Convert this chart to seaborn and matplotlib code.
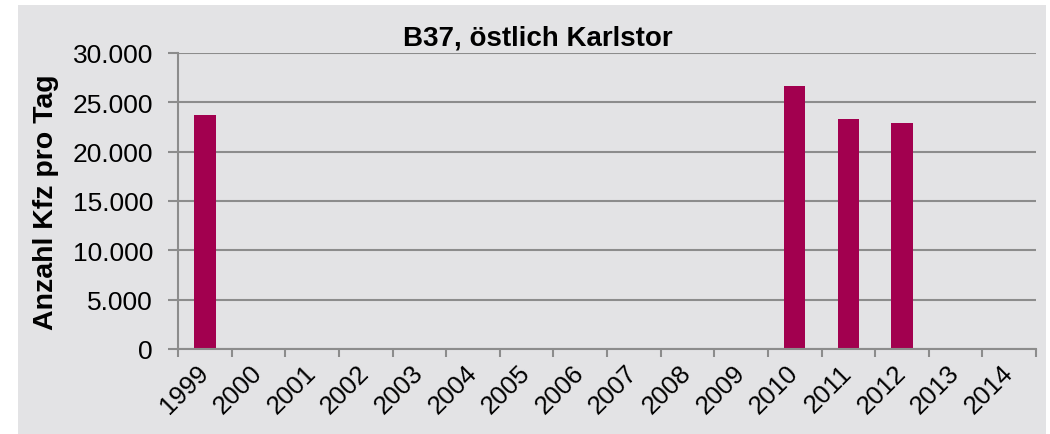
import matplotlib
matplotlib.use("Agg")
import matplotlib.pyplot as plt
from matplotlib.patches import Rectangle
from matplotlib.ticker import FixedLocator, FuncFormatter
import numpy as np
import pandas as pd
import seaborn as sns

years = ["1999", "2000", "2001", "2002", "2003", "2004", "2005", "2006",
         "2007", "2008", "2009", "2010", "2011", "2012", "2013", "2014"]
values = [23700, np.nan, np.nan, np.nan, np.nan, np.nan, np.nan, np.nan,
          np.nan, np.nan, np.nan, 26700, 23300, 22900, np.nan, np.nan]
yticks = [0, 5000, 10000, 15000, 20000, 25000, 30000]
title = "B37, östlich Karlstor"
ylabel = "Anzahl Kfz pro Tag"

BG = "#e3e3e5"
BAR = "#a2004f"
GRID = "#8c8c8c"

sns.set_theme(style="white")
plt.rcParams["font.family"] = ["Liberation Sans", "DejaVu Sans"]

df = pd.DataFrame({"Jahr": years, "Wert": values})

W, H = 1050, 435
fig = plt.figure(figsize=(W / 100, H / 100), dpi=100)
fig.patch.set_facecolor("white")
fig.patches.append(Rectangle((18 / W, 0), (1046 - 18) / W, (H - 6) / H,
                             transform=fig.transFigure, facecolor=BG,
                             edgecolor="none", zorder=-10))

ax = fig.add_axes([178 / W, 1 - 350 / H, (1036 - 178) / W, (350 - 54) / H])
ax.set_facecolor(BG)
sns.barplot(data=df, x="Jahr", y="Wert", order=years, color=BAR,
            saturation=1, width=0.4, ax=ax, edgecolor="none")

ax.set_ylim(0, 30000)
ax.set_xlim(-0.5, len(years) - 0.5)
ax.set_yticks(yticks)
ax.yaxis.set_major_formatter(FuncFormatter(lambda v, p: f"{int(v):,}".replace(",", ".")))
ax.yaxis.grid(True, color=GRID, linewidth=1.5)
ax.set_axisbelow(True)

for s in ["top", "right"]:
    ax.spines[s].set_visible(False)
for s in ["left", "bottom"]:
    ax.spines[s].set_color(GRID)
    ax.spines[s].set_linewidth(1.5)

ax.tick_params(axis="y", which="major", length=7, width=1.5, color=GRID,
               labelsize=19, pad=11, left=True, labelcolor="black")
ax.tick_params(axis="x", which="major", length=0, labelsize=18.5, pad=14,
               labelcolor="black")
ax.xaxis.set_minor_locator(FixedLocator(np.arange(-0.5, len(years), 1.0)))
ax.tick_params(axis="x", which="minor", length=6, width=1.5, color=GRID,
               bottom=True)
for lab in ax.get_xticklabels():
    lab.set_rotation(45)
    lab.set_ha("right")
    lab.set_va("center")
    lab.set_rotation_mode("anchor")

ax.set_xlabel("")
ax.set_ylabel(ylabel, fontsize=20.5, fontweight="bold", labelpad=10, color="black")
fig.text(538 / W, 1 - 38 / H, title, ha="center", va="center",
         fontsize=20, fontweight="bold", color="black")

fig.savefig("out.png", dpi=100, facecolor="white")
